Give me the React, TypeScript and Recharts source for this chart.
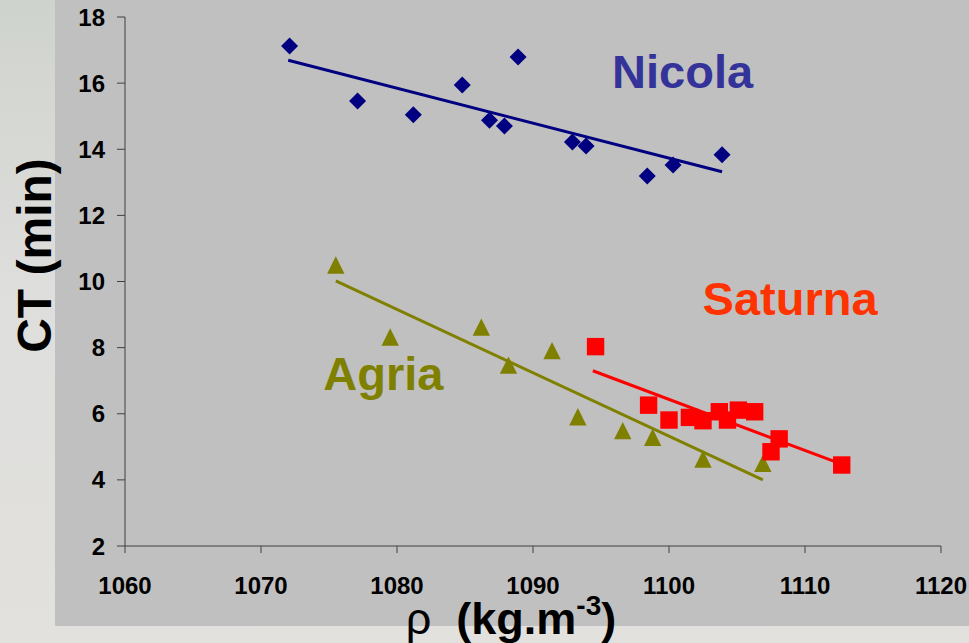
import React from "react";
import { ScatterChart, Scatter, XAxis, YAxis } from "recharts";

// density (kg.m-3) and coagulation time (min) per variety
const nicolaDensity = [1072.1, 1077.1, 1081.2, 1084.8, 1086.8, 1087.9, 1088.9, 1092.9, 1093.9, 1098.4, 1100.3, 1103.9];
const nicolaCT = [17.12, 15.46, 15.04, 15.94, 14.88, 14.7, 16.79, 14.22, 14.1, 13.19, 13.52, 13.83];

const agriaDensity = [1075.5, 1079.5, 1086.2, 1088.2, 1091.4, 1093.3, 1096.6, 1098.8, 1102.5, 1106.9];
const agriaCT = [10.5, 8.32, 8.62, 7.47, 7.91, 5.91, 5.49, 5.29, 4.63, 4.5];

const saturnaDensity = [1094.6, 1098.5, 1100.0, 1101.5, 1102.5, 1103.7, 1104.3, 1105.1, 1106.3, 1108.1, 1107.5, 1112.7];
const saturnaCT = [8.03, 6.26, 5.81, 5.89, 5.79, 6.06, 5.81, 6.11, 6.06, 5.24, 4.85, 4.45];

// linear trend line end points
const nicolaFitX = [1072.0, 1103.9];
const nicolaFitY = [16.69, 13.32];
const agriaFitX = [1075.5, 1106.9];
const agriaFitY = [10.02, 4.0];
const saturnaFitX = [1094.4, 1112.2];
const saturnaFitY = [7.3, 4.55];

// series names and where they sit on the plot
const seriesNames = ["Nicola", "Agria", "Saturna"];
const nameX = [1101.0, 1079.0, 1108.9];
const nameY = [16.37, 7.23, 9.5];

const xTicks = [1060, 1070, 1080, 1090, 1100, 1110, 1120];
const yTicks = [2, 4, 6, 8, 10, 12, 14, 16, 18];

const NAVY = "#000080";
const OLIVE = "#808000";
const RED = "#ff0000";
const nameColors = ["#333399", "#808000", "#ff3300"];

const FONT = "'Liberation Sans', Arial, sans-serif";

const toPoints = (xs: number[], ys: number[]) => xs.map((x, i) => ({ x, y: ys[i] }));

const nicolaData = toPoints(nicolaDensity, nicolaCT);
const agriaData = toPoints(agriaDensity, agriaCT);
const saturnaData = toPoints(saturnaDensity, saturnaCT);
const nameData = seriesNames.map((name, i) => ({ x: nameX[i], y: nameY[i], name, color: nameColors[i] }));

const Diamond = (props: any) => {
  const { cx, cy } = props;
  const r = 8.5;
  return <polygon points={`${cx},${cy - r} ${cx + r},${cy} ${cx},${cy + r} ${cx - r},${cy}`} fill={NAVY} />;
};

const Square = (props: any) => {
  const { cx, cy } = props;
  const h = 8.7;
  return <rect x={cx - h} y={cy - h} width={h * 2} height={h * 2} fill={RED} />;
};

const Triangle = (props: any) => {
  const { cx, cy } = props;
  const h = 8.7;
  return <polygon points={`${cx},${cy - h} ${cx + h},${cy + h} ${cx - h},${cy + h}`} fill={OLIVE} />;
};

const NoDot = () => <g />;

const NameText = (props: any) => {
  const { cx, cy, payload } = props;
  return (
    <text x={cx} y={cy} dy="0.36em" textAnchor="middle" fill={payload.color} fontFamily={FONT} fontWeight="bold" fontSize={47}>
      {payload.name}
    </text>
  );
};

const YTitle = (props: any) => {
  const { viewBox } = props;
  const x = viewBox.x + 51;
  const y = viewBox.y + viewBox.height / 2 - 26;
  return (
    <text x={x} y={y} transform={`rotate(-90, ${x}, ${y})`} textAnchor="middle" fontFamily={FONT} fontWeight="bold" fontSize={48} fill="#000">
      CT (min)
    </text>
  );
};

const XTitle = (props: any) => {
  const { viewBox } = props;
  const x = viewBox.x + viewBox.width / 2 - 22;
  const y = viewBox.y + 88;
  return (
    <text x={x} y={y} textAnchor="middle" fontFamily={FONT} fontWeight="bold" fontSize={45} fill="#000">
      <tspan fontWeight="normal">ρ</tspan>
      {"\u00a0\u00a0(kg.m"}
      <tspan dy={-19} fontSize={28}>-3</tspan>
      <tspan dy={19}>)</tspan>
    </text>
  );
};

const tickStyle = { fontFamily: FONT, fontWeight: "bold", fontSize: 24, fill: "#000" };

export default function App() {
  return (
    <div
      style={{
        position: "absolute",
        left: 0,
        top: 0,
        width: 969,
        height: 643,
        overflow: "hidden",
        background: "linear-gradient(180deg, #cfd3cd 0%, #dededc 45%, #e2e1de 100%)",
      }}
    >
      <div style={{ position: "absolute", left: 55, top: 0, width: 914, height: 626, background: "#c0c0c0" }} />
      <div style={{ position: "absolute", left: 0, top: 0 }}>
        <ScatterChart width={969} height={643} margin={{ top: 17, right: 28, bottom: 37, left: 0 }}>
          <XAxis
            type="number"
            dataKey="x"
            domain={[1060, 1120]}
            ticks={xTicks}
            allowDataOverflow
            height={60}
            tickSize={7}
            tickMargin={24}
            tick={tickStyle}
            axisLine={{ stroke: "#404040", strokeWidth: 1 }}
            tickLine={{ stroke: "#404040", strokeWidth: 1 }}
            label={<XTitle />}
          />
          <YAxis
            type="number"
            dataKey="y"
            domain={[2, 18]}
            ticks={yTicks}
            allowDataOverflow
            width={125}
            tickSize={8}
            tickMargin={12}
            tick={tickStyle}
            axisLine={{ stroke: "#404040", strokeWidth: 1 }}
            tickLine={{ stroke: "#404040", strokeWidth: 1 }}
            label={<YTitle />}
          />
          <Scatter data={toPoints(nicolaFitX, nicolaFitY)} line={{ stroke: NAVY, strokeWidth: 3 }} shape={NoDot} isAnimationActive={false} />
          <Scatter data={toPoints(agriaFitX, agriaFitY)} line={{ stroke: OLIVE, strokeWidth: 3 }} shape={NoDot} isAnimationActive={false} />
          <Scatter data={toPoints(saturnaFitX, saturnaFitY)} line={{ stroke: RED, strokeWidth: 3 }} shape={NoDot} isAnimationActive={false} />
          <Scatter data={nicolaData} shape={Diamond} isAnimationActive={false} />
          <Scatter data={agriaData} shape={Triangle} isAnimationActive={false} />
          <Scatter data={saturnaData} shape={Square} isAnimationActive={false} />
          <Scatter data={nameData} shape={NameText} isAnimationActive={false} />
        </ScatterChart>
      </div>
    </div>
  );
}
